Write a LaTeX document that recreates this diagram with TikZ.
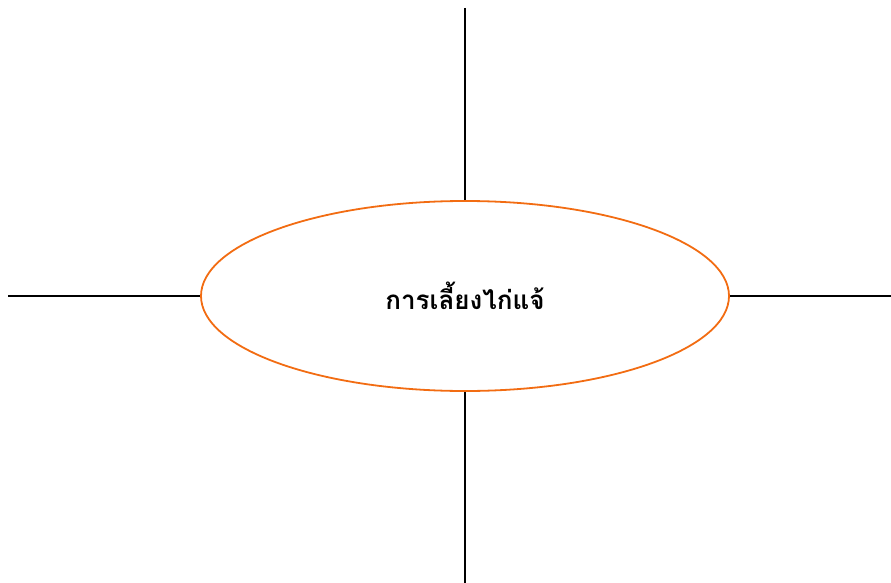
\documentclass[tikz,border=0pt]{standalone}
\usepackage{fontspec}
\usepackage{xcolor}
\usepackage{tikz}
\usetikzlibrary{shapes.geometric, positioning}
\newfontfamily\thaifont[Script=Thai]{Loma}
\definecolor{bantamorange}{RGB}{242,108,18}

\begin{document}
\begin{tikzpicture}[x=1pt, y=-1pt,
    every node/.style={font=\thaifont\bfseries\fontsize{26}{30}\selectfont},
    hub/.style = {ellipse, draw=bantamorange, line width=1.8pt,
                     minimum width=528pt, minimum height=190pt,
                     inner sep=0pt},
    spoke/.style = {line width=1.4pt, black}
]
\useasboundingbox (0,0) rectangle (891,583);

\node (topic) [hub] at (465,296) {การเลี้ยงไก่แจ้};

\coordinate (n) at (465,8);
\coordinate (s) at (465,583);
\coordinate (w) at (8,296);
\coordinate (e) at (891,296);

\draw[spoke] (n) -- (topic.north);
\draw[spoke] (topic.south) -- (s);
\draw[spoke] (w) -- (topic.west);
\draw[spoke] (topic.east) -- (e);

\end{tikzpicture}
\end{document}
